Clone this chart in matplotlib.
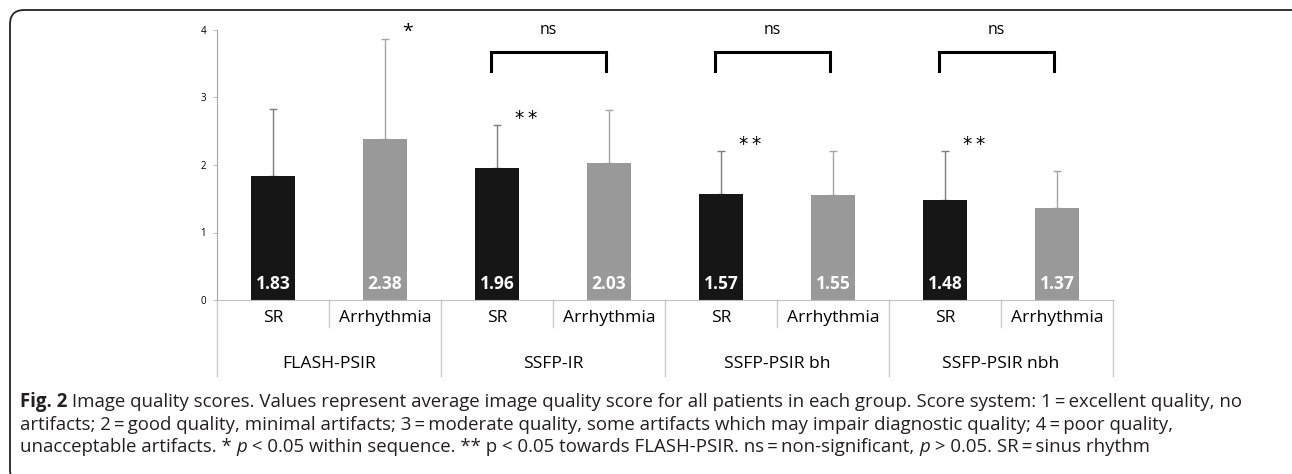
import matplotlib
matplotlib.use("Agg")
import matplotlib.pyplot as plt
from matplotlib.patches import FancyBboxPatch
import numpy as np

# mean image quality score and SD per sequence / rhythm group
groups = ['FLASH-PSIR', 'SSFP-IR', 'SSFP-PSIR bh', 'SSFP-PSIR nbh']
rhythms = ['SR', 'Arrhythmia']
sr_mean = [1.83, 1.96, 1.57, 1.48]
arr_mean = [2.38, 2.03, 1.55, 1.37]
sr_sd = [1.00, 0.63, 0.64, 0.72]
arr_sd = [1.48, 0.78, 0.66, 0.54]

# significance marks: '*' within sequence, '**' towards FLASH-PSIR, ns brackets
within_star = [0]          # group index with * on the arrhythmia bar
towards_flash = [1, 2, 3]  # groups with ** on the SR bar
ns_groups = [1, 2, 3]

W, H = 1292, 474
plt.rcParams['font.family'] = ['Open Sans', 'DejaVu Sans']
fig = plt.figure(figsize=(W / 100, H / 100), dpi=100)

# axes box in pixels: x 217..1113, y 30..300
ax = fig.add_axes([217 / W, (H - 300) / H, 896 / W, 270 / H])

x_sr = np.arange(len(groups)) * 2
x_arr = x_sr + 1
bw = 0.4
ax.bar(x_sr, sr_mean, bw, color='#161616', zorder=2)
ax.bar(x_arr, arr_mean, bw, color='#999999', zorder=2)
ax.errorbar(x_sr, sr_mean, yerr=[np.zeros(4), sr_sd], fmt='none',
            ecolor='#7f7f7f', elinewidth=1.0, capsize=3, capthick=1.0, zorder=1)
ax.errorbar(x_arr, arr_mean, yerr=[np.zeros(4), arr_sd], fmt='none',
            ecolor='#a6a6a6', elinewidth=1.0, capsize=3, capthick=1.0, zorder=1)

for xs, vals in ((x_sr, sr_mean), (x_arr, arr_mean)):
    for x, v in zip(xs, vals):
        ax.text(x, 0.24, f'{v:.2f}', ha='center', va='center', color='white',
                fontsize=12.5, fontweight='bold', zorder=3)

for g in within_star:
    ax.text(x_arr[g] + 0.2, 3.98, '*', ha='center', va='center', fontsize=14)
for g in towards_flash:
    ax.text(x_sr[g] + 0.26, sr_mean[g] + sr_sd[g] + 0.1, '*\u2009*', ha='center',
            va='center', fontsize=13.5, family=['DejaVu Sans'])
for g in ns_groups:
    x0, x1 = x_sr[g] - 0.05, x_arr[g] - 0.03
    ax.plot([x0, x0, x1, x1], [3.39, 3.67, 3.67, 3.39], color='black',
            lw=2.2, solid_joinstyle='miter', clip_on=False)
    ax.text((x0 + x1) / 2, 4.0, 'ns', ha='center', va='center', fontsize=11.5)

ax.set_xlim(-0.5, 7.5)
ax.set_ylim(0, 4)
ax.set_yticks([0, 1, 2, 3, 4])
ax.tick_params(axis='y', labelsize=7, length=3, color='#bfbfbf', pad=5)
ax.set_xticks([])
for s in ['top', 'right']:
    ax.spines[s].set_visible(False)
ax.spines['left'].set_color('#a6a6a6')
ax.spines['bottom'].set_color('#bfbfbf')

# two-level category axis below the bars
tr = ax.get_xaxis_transform()
line_kw = dict(color='#c8c8c8', lw=1.0, transform=tr, clip_on=False)
for g, name in enumerate(groups):
    ax.text(x_sr[g], -0.068, rhythms[0], ha='center', va='center',
            fontsize=12.6, transform=tr)
    ax.text(x_arr[g], -0.068, rhythms[1], ha='center', va='center',
            fontsize=12.6, transform=tr)
    ax.text(x_sr[g] + 0.5, -0.238, name, ha='center', va='center',
            fontsize=12.6, transform=tr)
    ax.plot([x_sr[g] + 0.5] * 2, [0, -0.1], **line_kw)
for b in np.arange(len(groups) + 1) * 2 - 0.5:
    ax.plot([b, b], [0, -0.28], **line_kw)

# rounded frame running off the right and bottom edges
frame = FancyBboxPatch((10 / W, -10 / H), 1300 / W, 474 / H,
                       boxstyle='round,pad=0,rounding_size=0.011',
                       transform=fig.transFigure, fill=False,
                       edgecolor='#222222', lw=1.3, mutation_aspect=W / H)
fig.add_artist(frame)

# caption, drawn run by run so bold / italic pieces follow on
caption = [
    [('Fig. 2', 'bold', 'normal'),
     (' Image quality scores. Values represent average image quality score for all '
      'patients in each group. Score system: 1\u2009=\u2009excellent quality, no', 'normal', 'normal')],
    [('artifacts; 2\u2009=\u2009good quality, minimal artifacts; 3\u2009=\u2009moderate quality, some '
      'artifacts which may impair diagnostic quality; 4\u2009=\u2009poor quality,', 'normal', 'normal')],
    [('unacceptable artifacts. * ', 'normal', 'normal'), ('p', 'normal', 'italic'),
     (' < 0.05 within sequence. ** p < 0.05 towards FLASH-PSIR. ns\u2009=\u2009non-significant, ',
      'normal', 'normal'),
     ('p', 'normal', 'italic'), (' > 0.05. SR\u2009=\u2009sinus rhythm', 'normal', 'normal')],
]
renderer = fig.canvas.get_renderer()
for i, runs in enumerate(caption):
    x = 20
    y = 407 + i * 22.5
    for txt, weight, style in runs:
        t = fig.text(x / W, 1 - y / H, txt, fontsize=13.4, fontweight=weight,
                     fontstyle=style, va='baseline', ha='left', color='#231f20')
        x += t.get_window_extent(renderer).width

fig.savefig('out.png', dpi=100)
